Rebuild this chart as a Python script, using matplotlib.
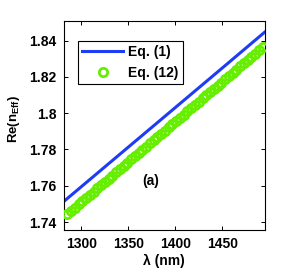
import matplotlib
matplotlib.use("Agg")
import matplotlib.pyplot as plt

# Data
lam_eq1 = [1281, 1350, 1400, 1450, 1495]
n_eq1 = [1.7512, 1.7813, 1.8031, 1.8249, 1.8446]

lam_eq12 = [1285, 1289, 1293, 1297, 1301, 1305, 1309, 1313, 1317, 1321,
            1325, 1329, 1333, 1337, 1341, 1345, 1349, 1353, 1357, 1361,
            1365, 1369, 1373, 1377, 1381, 1385, 1389, 1393, 1397, 1401,
            1405, 1409, 1413, 1417, 1421, 1425, 1429, 1433, 1437, 1441,
            1445, 1449, 1453, 1457, 1461, 1465, 1469, 1473, 1477, 1481,
            1485, 1489, 1493]
n_eq12 = [1.7444, 1.7462, 1.7479, 1.7497, 1.7515, 1.7532, 1.7550, 1.7568, 1.7586, 1.7603,
          1.7621, 1.7639, 1.7656, 1.7674, 1.7692, 1.7709, 1.7727, 1.7745, 1.7762, 1.7780,
          1.7798, 1.7815, 1.7833, 1.7851, 1.7869, 1.7886, 1.7904, 1.7922, 1.7939, 1.7957,
          1.7975, 1.7992, 1.8010, 1.8028, 1.8045, 1.8063, 1.8081, 1.8098, 1.8116, 1.8134,
          1.8152, 1.8169, 1.8187, 1.8205, 1.8222, 1.8240, 1.8258, 1.8275, 1.8293, 1.8311,
          1.8328, 1.8346, 1.8364]

xticks = [1300, 1350, 1400, 1450]
yticks = [1.74, 1.76, 1.78, 1.80, 1.82, 1.84]
ytick_labels = ["1.74", "1.76", "1.78", "1.8", "1.82", "1.84"]

plt.rcParams['font.family'] = ['Liberation Sans', 'DejaVu Sans']
plt.rcParams['font.weight'] = 'bold'
plt.rcParams['mathtext.fontset'] = 'custom'
plt.rcParams['mathtext.rm'] = 'Liberation Sans:bold'
plt.rcParams['mathtext.bf'] = 'Liberation Sans:bold'

fig = plt.figure(figsize=(2.92, 2.77), dpi=100)
ax = fig.add_axes([0.2175, 0.1697, 0.6884, 0.7556])

ax.plot(lam_eq1, n_eq1, color='#1f3cf5', lw=2.2, label='Eq. (1)', zorder=2)
ax.plot(lam_eq12, n_eq12, linestyle='none', marker='o', markersize=6.0,
        markerfacecolor='none', markeredgecolor='#66ee00', markeredgewidth=2.0,
        label='Eq. (12)', zorder=3)

ax.set_xlim(1281, 1495)
ax.set_ylim(1.7356, 1.851)
ax.set_xticks(xticks)
ax.set_xticklabels([str(t) for t in xticks])
ax.set_yticks(yticks)
ax.set_yticklabels(ytick_labels)
ax.tick_params(direction='in', top=True, right=True, length=3, width=0.7,
               labelsize=10, pad=5)
for lbl in ax.get_xticklabels() + ax.get_yticklabels():
    lbl.set_fontweight('bold')
for s in ax.spines.values():
    s.set_linewidth(0.8)

ax.set_xlabel('λ (nm)', fontsize=10, fontweight='bold', labelpad=2)
ax.set_ylabel(r'Re(n$_{\mathbf{Eff}}$)', fontsize=9.5, fontweight='bold')
ax.yaxis.set_label_coords(-0.205, 0.53)

ax.text(1374, 1.7625, '(a)', fontsize=10, fontweight='bold', ha='center', va='center')

leg = ax.legend(loc='upper left', bbox_to_anchor=(0.073, 0.905), frameon=True,
                fancybox=False, edgecolor='black', framealpha=1,
                prop={'weight': 'bold', 'size': 10}, handlelength=2.95,
                borderpad=0.3, labelspacing=0.5, handletextpad=0.36,
                borderaxespad=0)
leg.get_frame().set_linewidth(0.8)

fig.savefig('out.png', dpi=100)
